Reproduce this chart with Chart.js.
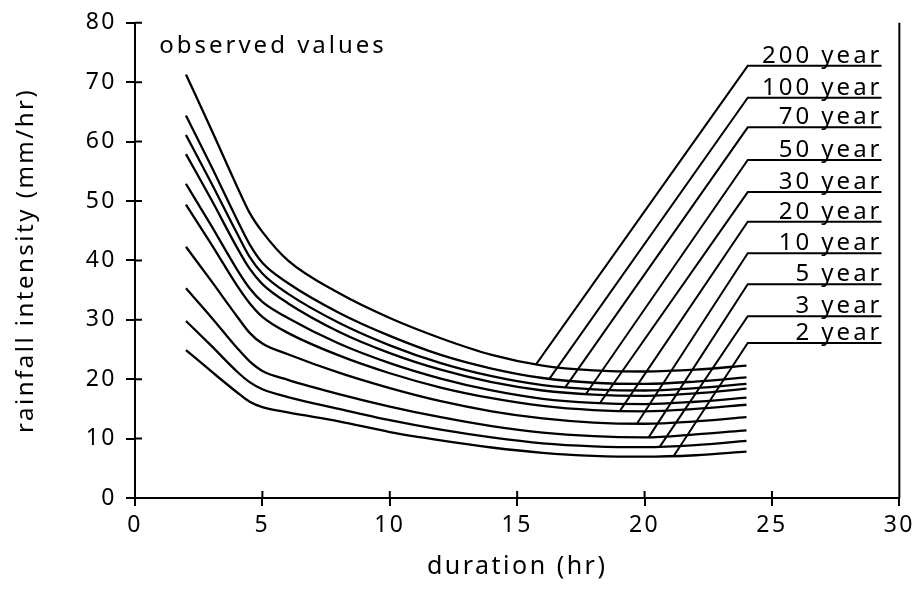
<!DOCTYPE html>
<html>
<head>
<meta charset="utf-8">
<script src="https://cdn.jsdelivr.net/npm/chart.js@4.4.1/dist/chart.umd.min.js"></script>
<style>
  html, body { margin: 0; padding: 0; background: #fff; }
  #wrap { width: 921px; height: 592px; }
</style>
</head>
<body>
<div id="wrap"><canvas id="grfc-idf"></canvas></div>
<script>
/* ===== DADOS ===== */
const durations = [2, 3, 4, 4.5, 5, 6, 8, 10, 12, 14, 16, 18, 20, 22, 24];
const periods = ['2 year', '3 year', '5 year', '10 year', '20 year', '30 year', '50 year', '70 year', '100 year', '200 year'];

const i2   = [24.9, 21.3, 17.8, 16.2, 15.3, 14.4, 12.9, 11.1, 9.7, 8.5, 7.6, 7.1, 6.95, 7.2, 7.8];
const i3   = [29.8, 25.6, 21.3, 19.5, 18.3, 17.0, 15.0, 13.1, 11.5, 10.2, 9.2, 8.7, 8.55, 8.9, 9.6];
const i5   = [35.3, 30.4, 25.3, 23.0, 21.4, 19.9, 17.5, 15.4, 13.6, 12.1, 11.0, 10.4, 10.2, 10.7, 11.4];
const i10  = [42.3, 36.5, 30.6, 27.8, 26.0, 24.2, 21.1, 18.5, 16.3, 14.6, 13.4, 12.7, 12.5, 12.9, 13.6];
const i20  = [49.4, 42.7, 35.8, 32.8, 30.5, 27.8, 24.0, 21.0, 18.6, 16.8, 15.5, 14.8, 14.6, 15.0, 15.7];
const i30  = [52.9, 45.8, 38.5, 35.3, 33.0, 30.3, 26.0, 22.7, 20.1, 18.1, 16.7, 16.0, 15.8, 16.2, 16.9];
const i50  = [57.9, 50.2, 42.2, 38.6, 36.0, 32.8, 28.0, 24.4, 21.6, 19.5, 18.1, 17.4, 17.2, 17.6, 18.4];
const i70  = [61.1, 53.0, 44.6, 40.6, 37.8, 34.4, 29.5, 25.7, 22.7, 20.5, 19.0, 18.3, 18.1, 18.5, 19.2];
const i100 = [64.4, 55.8, 46.9, 42.7, 39.6, 36.2, 31.2, 27.3, 24.1, 21.8, 20.2, 19.4, 19.2, 19.6, 20.3];
const i200 = [71.3, 62.0, 52.5, 48.0, 44.8, 40.0, 34.5, 30.3, 26.9, 24.1, 22.3, 21.5, 21.3, 21.6, 22.3];

// linhas de chamada (do ponto na curva ate o rotulo sublinhado)
const leaderX = [21.15, 20.6, 20.16, 19.7, 19.04, 18.25, 17.7, 16.9, 16.27, 15.74];
const leaderY = [7.1, 8.65, 10.2, 12.5, 14.7, 16.0, 17.5, 18.7, 20.1, 22.5];
const labelY  = [26.1, 30.6, 36.0, 41.2, 46.5, 51.5, 56.9, 62.4, 67.4, 72.75];
const underlineStart = 24.05;
const underlineEnd = 29.3;

const xTicks = [0, 5, 10, 15, 20, 25, 30];
const yTicks = [0, 10, 20, 30, 40, 50, 60, 70, 80];

const series = [i2, i3, i5, i10, i20, i30, i50, i70, i100, i200];

/* ===== DATASETS ===== */
let datasets = [];
series.forEach((vals, k) => {
  datasets.push({
    label: periods[k],
    data: durations.map((d, i) => ({ x: d, y: vals[i] })),
    borderColor: '#000',
    borderWidth: 2.3,
    pointRadius: 0,
    cubicInterpolationMode: 'monotone'
  });
});
periods.forEach((p, k) => {
  datasets.push({
    label: p + ' leader',
    data: [
      { x: leaderX[k], y: leaderY[k] },
      { x: underlineStart, y: labelY[k] },
      { x: underlineEnd, y: labelY[k] }
    ],
    borderColor: '#000',
    borderWidth: 2,
    pointRadius: 0,
    tension: 0
  });
});

const FONT = '"Noto Sans", "DejaVu Sans", sans-serif';

/* ===== PLUGINS ===== */
const espacamento = {
  id: 'espacamento',
  beforeLayout(chart) { chart.ctx.letterSpacing = '2.5px'; },
  beforeDraw(chart) { chart.ctx.letterSpacing = '2.5px'; }
};

const extras = {
  id: 'extras',
  afterDraw(chart) {
    const ctx = chart.ctx;
    const xs = chart.scales.x, ys = chart.scales.y;
    const a = chart.chartArea;
    ctx.save();
    ctx.strokeStyle = '#000';
    ctx.lineWidth = 2;
    ctx.beginPath();
    // marcas internas
    yTicks.forEach(v => {
      const py = ys.getPixelForValue(v);
      ctx.moveTo(a.left, py); ctx.lineTo(a.left + 7, py);
    });
    xTicks.forEach(v => {
      const px = xs.getPixelForValue(v);
      ctx.moveTo(px, a.bottom); ctx.lineTo(px, a.bottom - 7);
    });
    // borda direita
    ctx.moveTo(a.right, a.top); ctx.lineTo(a.right, a.bottom);
    ctx.stroke();

    ctx.fillStyle = '#000';
    ctx.letterSpacing = '3px';
    ctx.font = '24px ' + FONT;
    ctx.textAlign = 'right';
    ctx.textBaseline = 'alphabetic';
    periods.forEach((p, k) => {
      ctx.fillText(p, xs.getPixelForValue(underlineEnd) + 1, ys.getPixelForValue(labelY[k]) - 3);
    });
    ctx.textAlign = 'left';
    ctx.fillText('observed values', xs.getPixelForValue(0.95), ys.getPixelForValue(75));
    ctx.restore();
  }
};

/* ===== GRAFICO ===== */
let ctx1 = document.getElementById('grfc-idf');
new Chart(ctx1, {
  type: 'line',
  data: { datasets: datasets },
  options: {
    responsive: true,
    maintainAspectRatio: false,
    animation: false,
    layout: { padding: { top: 20, right: 19, bottom: 0, left: 0 } },
    plugins: {
      legend: { display: false },
      tooltip: { enabled: false }
    },
    scales: {
      x: {
        type: 'linear',
        min: 0,
        max: 30,
        afterFit: (scale) => { scale.height = 94; },
        afterBuildTicks: (scale) => { scale.ticks = xTicks.map(v => ({ value: v })); },
        ticks: { color: '#000', padding: 6, font: { family: FONT, size: 23 } },
        grid: { drawOnChartArea: false, drawTicks: true, tickLength: 8, color: '#000', lineWidth: 2 },
        border: { display: true, color: '#000', width: 2 },
        title: {
          display: true,
          text: 'duration (hr)',
          color: '#000',
          font: { family: FONT, size: 25 },
          padding: { top: 0, bottom: 10 }
        }
      },
      y: {
        type: 'linear',
        min: 0,
        max: 80,
        afterFit: (scale) => { scale.width = 135; },
        afterBuildTicks: (scale) => { scale.ticks = yTicks.map(v => ({ value: v })); },
        ticks: { color: '#000', padding: 9, font: { family: FONT, size: 23 } },
        grid: { drawOnChartArea: false, drawTicks: true, tickLength: 9, color: '#000', lineWidth: 2 },
        border: { display: true, color: '#000', width: 2 },
        title: {
          display: true,
          text: 'rainfall intensity (mm/hr)',
          color: '#000',
          font: { family: FONT, size: 24 },
          padding: { top: 12, bottom: 0 }
        }
      }
    }
  },
  plugins: [espacamento, extras]
});
</script>
</body>
</html>
